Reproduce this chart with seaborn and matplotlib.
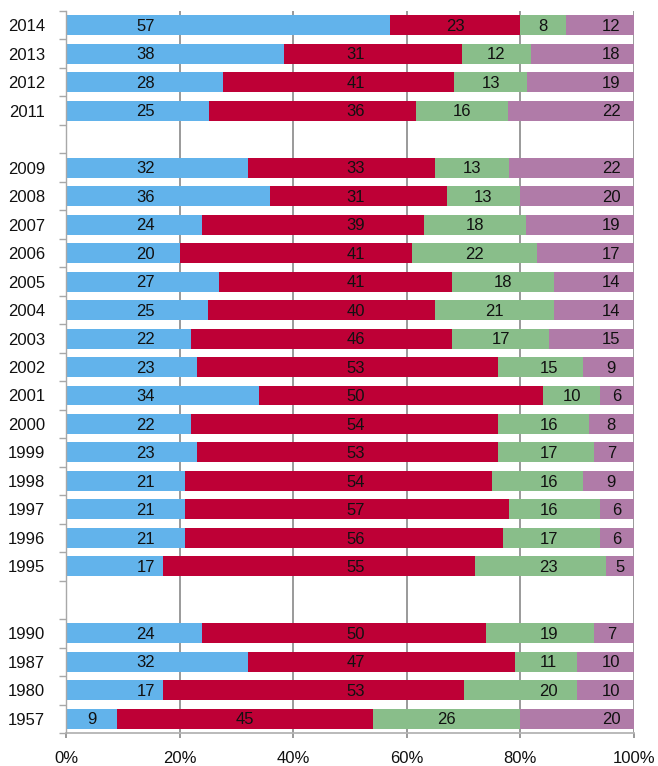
import matplotlib
matplotlib.use("Agg")
import matplotlib.pyplot as plt
import seaborn as sns
import numpy as np

# ---- data ----
years = ["2014", "2013", "2012", "2011", "2009", "2008", "2007", "2006", "2005",
         "2004", "2003", "2002", "2001", "2000", "1999", "1998", "1997", "1996",
         "1995", "1990", "1987", "1980", "1957"]
blue = [57, 38, 28, 25, 32, 36, 24, 20, 27, 25, 22, 23, 34, 22, 23, 21, 21, 21, 17, 24, 32, 17, 9]
red = [23, 31, 41, 36, 33, 31, 39, 41, 41, 40, 46, 53, 50, 54, 53, 54, 57, 56, 55, 50, 47, 53, 45]
green = [8, 12, 13, 16, 13, 13, 18, 22, 18, 21, 17, 15, 10, 16, 17, 16, 16, 17, 23, 19, 11, 20, 26]
purple = [12, 18, 19, 22, 22, 20, 19, 17, 14, 14, 15, 9, 6, 8, 7, 9, 6, 6, 5, 7, 10, 10, 20]
x_ticks = [0, 20, 40, 60, 80, 100]
x_tick_labels = ["0%", "20%", "40%", "60%", "80%", "100%"]

# ---- layout / style ----
gap_before = {"2009": 1.0, "1990": 1.35}   # empty space between groups (in rows)
colors = ["#62B3EB", "#BE0036", "#89BE8A", "#B07BA8"]
anchors = [14, 51, 85, 96]                # preferred label column per series
margins = [3, 4, 4, 3]
FONT = ["Liberation Sans", "DejaVu Sans"]
FS = 12

plt.rcParams["font.family"] = FONT

# row positions (top to bottom)
pos = []
p = 0.0
for i, y in enumerate(years):
    if i > 0:
        p += 1.0 + gap_before.get(y, 0.0)
    pos.append(p)
pos = np.array(pos)

series = np.array([blue, red, green, purple], dtype=float)
shares = series / series.sum(axis=0) * 100.0   # 100% stacked
cum = np.cumsum(shares, axis=0)

fig = plt.figure(figsize=(6.58, 7.66), dpi=100)
ax = fig.add_axes([66 / 658, 1 - 733 / 766, (634 - 66) / 658, (733 - 11) / 766])

# draw back to front: cumulative totals
for k in range(3, -1, -1):
    sns.barplot(x=cum[k], y=pos, orient="h", native_scale=True, color=colors[k],
                saturation=1, width=0.7, linewidth=0, errorbar=None, ax=ax, zorder=3)

# value labels
for k in range(4):
    starts = cum[k] - shares[k]
    ends = cum[k]
    for j in range(len(years)):
        a = anchors[k]
        s, e = starts[j], ends[j]
        if s + margins[k] <= a <= e - margins[k]:
            xl = a
        else:
            xl = (s + e) / 2
        ax.text(xl, pos[j] + 0.2, str(int(series[k][j])), ha="center", va="baseline",
                fontsize=FS, color="#111111", zorder=5, family=FONT)

ax.set_xlim(0, 100)
ax.set_ylim(pos[-1] + 0.5, pos[0] - 0.5)

# x axis
ax.set_xticks(x_ticks)
ax.set_xticklabels(x_tick_labels)
ax.tick_params(axis="x", which="major", length=3.8, width=1.4, color="#9a9a9a",
               pad=9, labelsize=FS, labelcolor="#111111")
ax.grid(axis="x", color="#9a9a9a", linewidth=1.4, zorder=0)
ax.grid(axis="y", visible=False)
ax.set_axisbelow(True)

# y axis: labels at row centres, tick marks at row boundaries
ax.set_yticks(pos)
ax.set_yticklabels(years)
bounds = sorted(set(np.round(np.concatenate([pos - 0.5, pos + 0.5]), 4)))
ax.set_yticks(bounds, minor=True)
ax.tick_params(axis="y", which="major", length=0, pad=15, labelsize=FS, labelcolor="#111111")
ax.tick_params(axis="y", which="minor", length=5, width=1.0, color="#a8a8a8")
ax.set_xlabel("")
ax.set_ylabel("")

for side in ["top", "right"]:
    ax.spines[side].set_visible(False)
ax.spines["left"].set_color("#a8a8a8")
ax.spines["left"].set_linewidth(1.0)
ax.spines["bottom"].set_color("#b4b4b4")
ax.spines["bottom"].set_linewidth(1.3)
ax.spines["left"].set_zorder(4)

fig.savefig("out.png", dpi=100)
